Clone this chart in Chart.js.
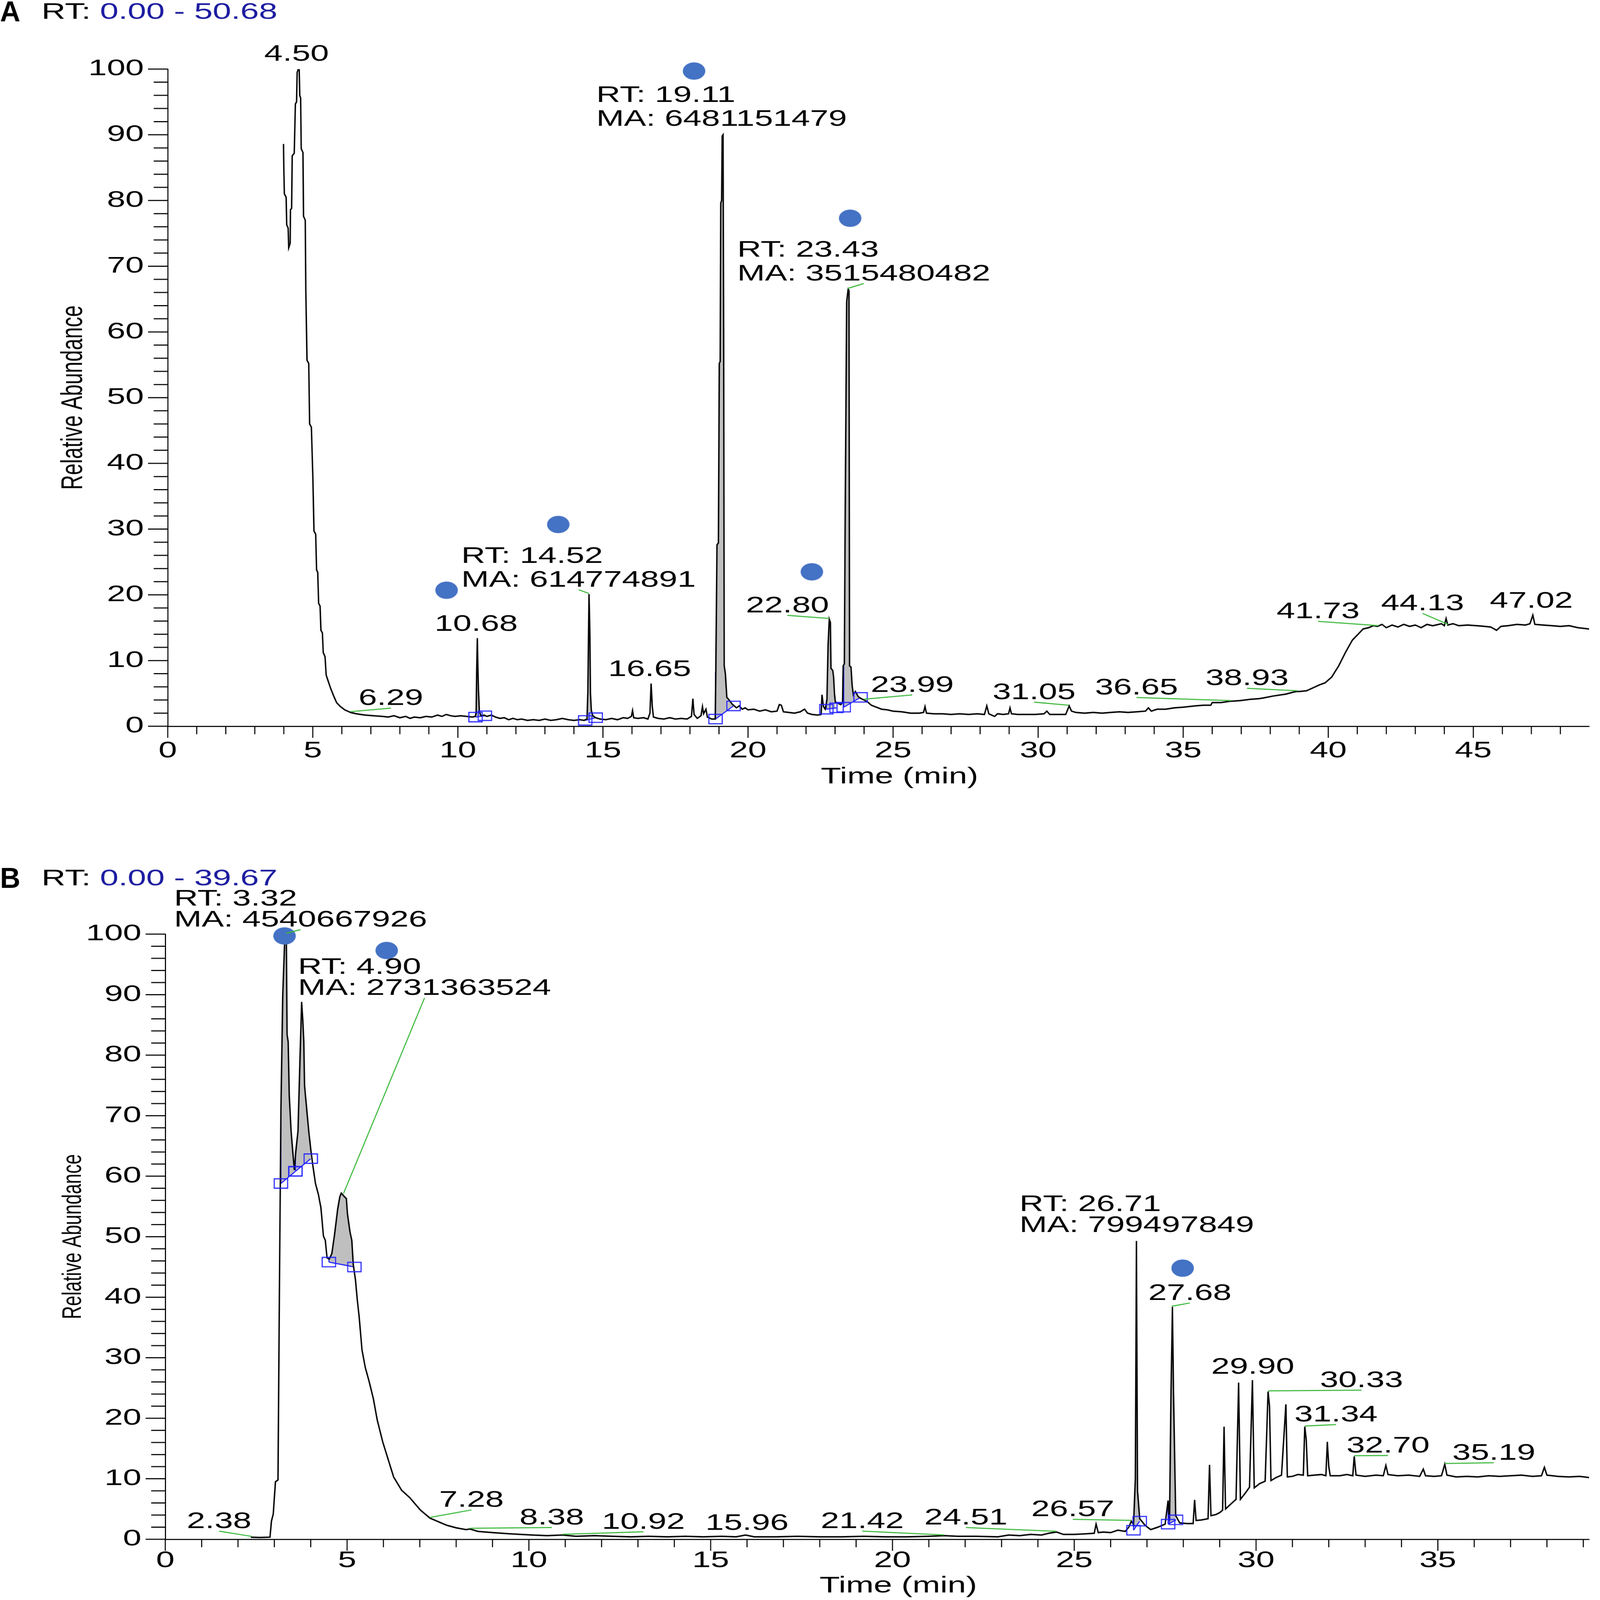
<!DOCTYPE html>
<html>
<head>
<title>GC chromatograms A and B</title>
<script src="https://cdn.jsdelivr.net/npm/chart.js"></script>
<style>
  html, body { margin: 0; padding: 0; background: #fff; overflow: hidden; }
  canvas { position: absolute; left: 0; width: 100vw; height: 50vh; }
</style>
</head>
<body>
<canvas id="chart-a" width="4550" height="2213" style="top:0;width:100vw;height:50vh"></canvas>
<canvas id="chart-b" width="4550" height="2213" style="top:50vh;width:100vw;height:50vh"></canvas>
<script>
// ---------- panel A : [time (min), relative abundance] ----------
const rangeA = '0.00 - 50.68';
const traceA1 = [[3.99,88.6],[4.00,85.0],[4.02,81.0],[4.08,80.5],[4.10,76.3],[4.15,75.8],[4.17,72.8],[4.22,73.5],[4.23,78.6],[4.27,78.8],
  [4.29,86.8],[4.36,87.2],[4.40,94.7],[4.44,95.0],[4.46,99.5],[4.50,100],[4.53,100],[4.55,96.0],[4.58,95.6],[4.60,87.9],
  [4.66,87.3],[4.68,77.6],[4.74,77.0],[4.76,66.0],[4.80,55.7],[4.86,55.2],[4.89,46.0],[4.95,45.5],[5.00,38.2],[5.04,29.7],
  [5.10,29.2],[5.13,23.8],[5.17,23.4],[5.20,18.7],[5.25,18.3],[5.28,14.6],[5.33,14.2],[5.36,11.2],[5.42,10.6],[5.46,7.8],
  [5.55,6.6],[5.62,5.7],[5.72,4.6],[5.82,3.6],[5.95,3.0],[6.10,2.5],[6.30,2.1],[6.50,1.9],[6.80,1.7],[7.10,1.6]];
const traceA2 = [[7.40,1.5],[7.60,1.4],[7.80,1.6],[8.00,1.3],[8.20,1.5],[8.35,1.2],[8.50,1.4],[8.70,1.3],[8.90,1.5],[9.10,1.4],
  [9.30,1.7],[9.45,1.5],[9.60,1.8],[9.75,1.6],[9.90,1.5],[10.10,1.6],[10.30,1.5],[10.50,1.4],[10.60,1.5],
  [10.63,2.0],[10.65,9.1],[10.67,13.4],[10.69,9.0],[10.71,5.5],[10.74,2.2],[10.80,1.6],[10.90,1.7],[11.00,1.5],
  [11.15,1.7],[11.30,1.4],[11.45,1.2],[11.60,1.3],[11.75,1.0],[11.90,1.2],[12.05,1.0],[12.20,1.1],[12.40,0.9],[12.60,1.0],
  [12.80,0.9],[13.00,1.1],[13.20,0.9],[13.40,1.0],[13.60,1.2],[13.80,1.0],[14.00,0.9],[14.20,1.0],[14.35,0.9],[14.45,1.1],
  [14.48,5.2],[14.52,20.1],[14.55,14.0],[14.57,5.0],[14.60,2.4],[14.65,1.6],[14.75,1.3],[14.90,1.1],[15.10,1.0],[15.30,1.2],
  [15.50,1.0],[15.70,1.3],[15.85,1.2],[15.98,1.5],[16.02,2.4],[16.06,1.3],[16.20,1.2],[16.40,1.3],[16.55,1.1],[16.62,2.0],
  [16.66,6.5],[16.70,3.0],[16.74,1.4],[16.90,1.2],[17.10,1.1],[17.30,1.3],[17.50,1.1],[17.70,1.2],[17.90,1.1],[18.05,1.5],
  [18.10,4.2],[18.14,1.8],[18.25,1.2],[18.38,1.6],[18.43,3.0],[18.47,1.9],[18.55,2.6],[18.60,1.4],[18.75,1.1],[18.87,1.1]];
const traceA3 = [[18.89,8.2],[18.93,27.6],[18.98,27.9],[19.01,55.2],[19.04,55.5],[19.06,79.6],[19.09,80.0],[19.11,89.8],[19.14,90.0],[19.16,60.0],
  [19.18,9.2],[19.22,8.0],[19.27,4.4],[19.35,4.0],[19.45,3.4],[19.50,3.2],[19.60,2.8],[19.70,3.1],[19.80,2.6],[19.90,2.8],
  [20.00,2.5],[20.20,2.6],[20.40,2.3],[20.60,2.5],[20.80,2.2],[21.00,2.3],[21.08,3.3],[21.15,3.2],[21.22,2.2],[21.40,2.1],
  [21.60,2.0],[21.80,2.2],[21.95,2.6],[22.05,2.0],[22.20,1.8],[22.40,1.7],[22.52,1.8],[22.55,4.8],[22.60,3.0],[22.66,2.6],
  [22.72,4.0],[22.76,12.3],[22.80,16.3],[22.84,15.8],[22.86,8.8],[22.92,8.5],[22.95,7.5],[22.98,5.0],[23.01,3.7],[23.10,3.5],
  [23.20,3.3],[23.26,3.6],[23.28,9.2],[23.32,9.5],[23.35,32.5],[23.40,64.6],[23.45,66.5],[23.48,66.3],[23.50,9.2],[23.55,9.0],
  [23.59,6.2],[23.63,4.8],[23.70,5.3],[23.80,4.5],[23.90,4.2],[24.00,4.0],[24.12,3.7],[24.25,3.2],[24.43,2.9],[24.60,2.6],
  [24.80,2.5],[25.00,2.3]];
const traceA4 = [[25.30,2.2],[25.60,2.0],[25.90,2.0],[26.05,2.1],[26.10,3.0],[26.15,2.0],[26.40,1.9],[26.70,1.9],[27.00,1.8],[27.30,1.9],
  [27.60,1.8],[27.90,1.9],[28.15,1.8],[28.23,3.1],[28.30,1.9],[28.50,1.5],[28.60,1.9],[28.80,1.8],[28.98,1.9],[29.03,2.8],
  [29.08,1.9],[29.30,1.8],[29.60,1.8],[29.90,1.8],[30.20,1.9],[30.30,2.3],[30.40,1.8],[30.70,1.8],[30.95,1.8],[31.07,3.1],
  [31.15,2.3],[31.30,2.1],[31.60,2.0],[31.90,2.1],[32.20,2.0],[32.50,2.1],[32.80,2.2],[33.10,2.1],[33.40,2.2],[33.70,2.3],
  [33.80,2.8],[33.90,2.3],[34.10,2.6],[34.40,2.6],[34.70,2.8],[35.00,2.9],[35.40,3.1],[35.70,3.2],[35.95,3.2],[36.00,3.6],
  [36.30,3.6],[36.60,3.8],[36.97,3.9],[37.30,4.1],[37.60,4.2],[37.76,4.3],[38.10,4.6],[38.54,4.9],[38.80,5.2],[38.93,5.3],
  [39.02,5.3],[39.25,5.4],[39.50,5.9],[39.70,6.3],[39.89,6.6],[40.12,7.5],[40.36,9.2],[40.60,11.3],[40.83,13.1],[41.07,14.2],
  [41.20,14.8],[41.39,15.0],[41.55,15.3],[41.70,15.2],[41.85,15.5],[42.00,15.0],[42.20,15.4],[42.40,15.1],[42.60,15.5],[42.80,15.2],
  [43.00,15.4],[43.20,15.0],[43.40,15.5],[43.60,15.3],[43.80,15.5],[43.90,15.6],[44.00,15.3],[44.06,16.4],[44.12,15.4],[44.30,15.6],
  [44.50,15.3],[44.80,15.4],[45.10,15.3],[45.40,15.2],[45.60,15.1],[45.80,14.6],[45.95,15.2],[46.20,15.3],[46.50,15.5],[46.80,15.4],
  [46.95,15.6],[47.05,16.9],[47.12,15.5],[47.40,15.4],[47.70,15.3],[48.00,15.2],[48.30,15.3],[48.60,15.0],[48.99,14.8]];
const traceA = [...traceA1, ...traceA2, ...traceA3, ...traceA4];
// integrated peaks: [start, baseline at start, end, baseline at end]
const regionsA = [[10.61,1.4,10.93,1.6],[14.39,0.9,14.75,1.3],[18.88,1.1,19.50,3.1],[22.70,2.6,23.05,2.8],[23.30,2.9,23.88,4.4]];
const markersA = [[18.14,99.7],[23.52,77.3],[13.46,30.7],[9.61,20.7],[22.20,23.5]];
// peak labels: text lines, retention time, label centre (time, abundance)
const labelsA = [
  { text: ['4.50'], rt: 4.50, lx: 4.44, ly: 102.2 },
  { text: ['6.29'], rt: 6.29, lx: 7.69, ly: 4.2 },
  { text: ['10.68'], rt: 10.68, lx: 10.63, ly: 15.5 },
  { text: ['RT: 14.52', 'MA: 614774891'], rt: 14.52, lx: 14.16, ly: 22.2 },
  { text: ['16.65'], rt: 16.65, lx: 16.61, ly: 8.6 },
  { text: ['RT: 19.11', 'MA: 6481151479'], rt: 19.11, lx: 19.09, ly: 92.3 },
  { text: ['22.80'], rt: 22.80, lx: 21.36, ly: 18.3 },
  { text: ['RT: 23.43', 'MA: 3515480482'], rt: 23.43, lx: 23.99, ly: 68.8 },
  { text: ['23.99'], rt: 23.99, lx: 25.66, ly: 6.2 },
  { text: ['31.05'], rt: 31.05, lx: 29.86, ly: 5.1 },
  { text: ['36.65'], rt: 36.65, lx: 33.39, ly: 5.8 },
  { text: ['38.93'], rt: 38.93, lx: 37.20, ly: 7.2 },
  { text: ['41.73'], rt: 41.73, lx: 39.65, ly: 17.4 },
  { text: ['44.13'], rt: 44.13, lx: 43.25, ly: 18.6 },
  { text: ['47.02'], rt: 47.02, lx: 47.00, ly: 19.0 }
];

// ---------- panel B ----------
const rangeB = '0.00 - 39.67';
const traceB1 = [[2.35,0.35],[2.60,0.3],[2.88,0.35],[2.92,3.0],[2.97,4.2],[3.03,9.5],[3.10,9.8],[3.14,42.1],[3.18,70.7],[3.23,89.9],
  [3.28,98.3],[3.31,100],[3.33,99.0],[3.35,83.4],[3.38,82.2],[3.41,73.3],[3.46,67.5],[3.50,64.5],[3.55,61.0],[3.59,64.1],
  [3.65,67.5],[3.71,80.5],[3.75,88.8],[3.78,86.0],[3.81,82.2],[3.83,75.0],[3.90,70.4],[3.95,67.2],[4.00,64.5],[4.06,61.7],
  [4.13,58.8],[4.21,57.0],[4.28,54.8],[4.35,50.1],[4.40,49.4],[4.45,46.5],[4.51,46.3],[4.58,47.2],[4.65,50.1],[4.74,54.5],
  [4.80,56.6],[4.84,57.2],[4.87,57.0],[4.93,56.6],[4.98,56.3],[5.01,53.8],[5.08,50.8],[5.13,49.4],[5.17,45.4],[5.23,42.9],
  [5.28,39.6],[5.33,36.9],[5.41,31.3],[5.50,28.4],[5.61,26.0],[5.72,23.3],[5.83,19.7],[5.98,16.1],[6.13,13.2],[6.28,10.3],
  [6.50,8.1],[6.72,6.9],[7.02,4.8],[7.28,3.5],[7.55,2.8],[7.75,2.3],[8.00,1.9]];
const traceB2 = [[8.27,1.6],[8.38,1.7],[8.60,1.3],[9.00,1.1],[9.50,0.9],[10.10,0.7],[10.50,0.6],[10.92,0.7],[11.30,0.5],[11.80,0.6],
  [12.30,0.5],[12.80,0.4],[13.30,0.5],[13.80,0.4],[14.30,0.5],[14.80,0.4],[15.30,0.5],[15.70,0.4],[15.96,0.7],[16.20,0.4],
  [16.80,0.4],[17.40,0.5],[18.00,0.4],[18.60,0.4],[19.20,0.5],[19.80,0.4],[20.40,0.4],[21.00,0.5],[21.42,0.6],[21.80,0.5],
  [22.30,0.5],[22.90,0.4],[23.20,0.7],[23.50,0.6],[23.80,0.8],[24.10,0.7],[24.30,1.0],[24.51,1.2],[24.70,0.8],[25.00,0.8],
  [25.30,0.9],[25.55,1.0],[25.60,2.5],[25.66,1.1],[25.80,1.2],[26.00,1.1],[26.20,1.5],[26.40,1.3],[26.50,2.0]];
const traceB3 = [[26.57,3.0],[26.63,2.4],[26.68,10.0],[26.71,49.3],[26.74,8.0],[26.80,3.4],[26.95,2.3],[27.10,1.6],[27.30,2.0],[27.50,2.5],
  [27.58,6.4],[27.62,3.0],[27.66,24.1],[27.70,38.4],[27.73,24.0],[27.79,3.9],[27.90,2.7],[28.10,2.6],[28.27,2.6],[28.31,6.5],
  [28.35,3.1],[28.50,3.2],[28.68,3.4],[28.72,12.3],[28.76,3.9],[28.90,4.1],[29.00,4.4],[29.08,4.8],[29.12,18.6],[29.16,5.0],
  [29.30,5.8],[29.45,6.6],[29.52,25.9],[29.57,6.6],[29.70,7.6],[29.82,8.6],[29.90,26.3],[29.95,8.5],[30.10,9.2],[30.25,9.6],
  [30.33,24.4],[30.37,22.0],[30.41,9.7],[30.55,10.2],[30.70,10.6],[30.82,22.3],[30.86,10.3],[31.00,10.4],[31.15,10.7]];
const traceB4 = [[31.30,10.6],[31.34,18.6],[31.38,16.5],[31.42,10.5],[31.60,10.6],[31.80,10.7],[31.92,10.5],[31.96,16.1],[32.00,12.0],[32.04,10.5],
  [32.30,10.5],[32.50,10.7],[32.66,10.5],[32.70,13.7],[32.75,10.6],[33.00,10.4],[33.30,10.6],[33.50,10.5],[33.57,12.2],[33.63,10.7],
  [33.90,10.5],[34.20,10.6],[34.50,10.4],[34.60,11.6],[34.66,10.5],[34.90,10.4],[35.10,10.5],[35.19,12.4],[35.25,10.6],[35.50,10.3],
  [35.80,10.4],[36.10,10.3],[36.40,10.5],[36.70,10.4],[37.00,10.5],[37.30,10.6],[37.60,10.4],[37.85,10.5],[37.93,11.9],[38.00,10.6],
  [38.30,10.4],[38.60,10.3],[38.90,10.4],[39.16,10.2]];
const traceB = [...traceB1, ...traceB2, ...traceB3, ...traceB4];
const regionsB = [[3.18,58.8,3.58,60.8],[3.58,60.8,4.00,62.9],[4.50,45.8,5.20,45.0],[26.63,1.5,26.80,3.0],[27.58,2.5,27.80,3.2]];
const markersB = [[3.28,99.7],[6.09,97.3],[27.98,44.8]];
const labelsB = [
  { text: ['RT: 3.32', 'MA: 4540667926'], rt: 3.32, lx: 3.72, ly: 102.3 },
  { text: ['RT: 4.90', 'MA: 2731363524'], rt: 4.90, lx: 7.13, ly: 91.0 },
  { text: ['2.38'], rt: 2.38, lx: 1.48, ly: 2.9 },
  { text: ['7.28'], rt: 7.28, lx: 8.42, ly: 6.4 },
  { text: ['8.38'], rt: 8.38, lx: 10.63, ly: 3.5 },
  { text: ['10.92'], rt: 10.92, lx: 13.15, ly: 2.8 },
  { text: ['15.96'], rt: 15.96, lx: 16.00, ly: 2.6 },
  { text: ['21.42'], rt: 21.42, lx: 19.17, ly: 2.9 },
  { text: ['24.51'], rt: 24.51, lx: 22.02, ly: 3.5 },
  { text: ['26.57'], rt: 26.57, lx: 24.96, ly: 4.85 },
  { text: ['RT: 26.71', 'MA: 799497849'], rt: 26.71, lx: 26.72, ly: 51.8 },
  { text: ['27.68'], rt: 27.68, lx: 28.18, ly: 40.6 },
  { text: ['29.90'], rt: 29.90, lx: 29.91, ly: 28.4 },
  { text: ['30.33'], rt: 30.33, lx: 32.90, ly: 26.2 },
  { text: ['31.34'], rt: 31.34, lx: 32.20, ly: 20.5 },
  { text: ['32.70'], rt: 32.70, lx: 33.63, ly: 15.4 },
  { text: ['35.19'], rt: 35.19, lx: 36.54, ly: 14.2 }
];

// ---------- drawing helpers ----------
const FONT = '63px "Liberation Sans", Arial, sans-serif';
const STRETCH = 1.5;
const GREEN = '#3cb83c';
const BLUE = '#2020ff';

function wideText(ctx, text, x, y, align, font, color) {
  ctx.save();
  ctx.font = font;
  ctx.fillStyle = color;
  ctx.textAlign = align;
  ctx.textBaseline = 'middle';
  ctx.translate(x, y);
  ctx.scale(STRETCH, 1);
  ctx.fillText(text, 0, 0);
  ctx.restore();
}

function peakTop(trace, rt) {
  let best = null;
  trace.forEach(([x, y]) => {
    if (Math.abs(x - rt) <= 0.06 && (best === null || y > best)) best = y;
  });
  if (best === null) {
    let d = Infinity;
    trace.forEach(([x, y]) => { if (Math.abs(x - rt) < d) { d = Math.abs(x - rt); best = y; } });
  }
  return best;
}

function makeEllipse() {
  const c = document.createElement('canvas');
  c.width = 66; c.height = 50;
  const g = c.getContext('2d');
  g.fillStyle = '#4472c4';
  g.beginPath();
  g.ellipse(33, 25, 32, 24, 0, 0, Math.PI * 2);
  g.fill();
  return c;
}

function makeBox() {
  const c = document.createElement('canvas');
  c.width = 42; c.height = 30;
  const g = c.getContext('2d');
  g.strokeStyle = BLUE;
  g.lineWidth = 3;
  g.strokeRect(2, 2, 38, 26);
  return c;
}

const ellipseImg = makeEllipse();
const boxImg = makeBox();

const decor = {
  id: 'decor',
  afterDraw(chart, args, o) {
    const ctx = chart.ctx;
    const xs = chart.scales.x, ys = chart.scales.y;
    const area = chart.chartArea;
    ctx.save();
    ctx.strokeStyle = '#000';
    ctx.lineWidth = 3;
    ctx.beginPath();
    for (let v = 0; v <= xs.max + 1e-6; v += 1) {
      const px = xs.getPixelForValue(v);
      const major = v % 5 === 0;
      ctx.moveTo(px, area.bottom);
      ctx.lineTo(px, area.bottom + (major ? 32 : 22));
    }
    for (let v = 0; v <= 100; v += 2) {
      const py = ys.getPixelForValue(v);
      const major = v % 10 === 0;
      ctx.moveTo(area.left, py);
      ctx.lineTo(area.left - (major ? 56 : 40), py);
    }
    ctx.stroke();
    for (let v = 0; v <= xs.max + 1e-6; v += 5) {
      wideText(ctx, String(v), xs.getPixelForValue(v), o.tickY, 'center', FONT, '#000');
    }
    for (let v = 0; v <= 100; v += 10) {
      wideText(ctx, String(v), area.left - 68, ys.getPixelForValue(v), 'right', FONT, '#000');
    }
    // axis titles
    wideText(ctx, 'Time (min)', (area.left + area.right) / 2 + 60, o.titleY, 'center', FONT, '#000');
    ctx.save();
    ctx.translate(209, (area.top + area.bottom) / 2);
    ctx.scale(STRETCH, 1);
    ctx.rotate(-Math.PI / 2);
    ctx.font = o.yTitleSize + 'px "Liberation Sans", Arial, sans-serif';
    ctx.fillStyle = '#000';
    ctx.textAlign = 'center';
    ctx.textBaseline = 'middle';
    ctx.fillText('Relative Abundance', 0, 0);
    ctx.restore();
    // panel letter and RT range
    ctx.font = 'bold 80px "Liberation Sans Narrow", "Liberation Sans", Arial, sans-serif';
    ctx.fillStyle = '#000';
    ctx.textAlign = 'left';
    ctx.textBaseline = 'middle';
    ctx.fillText(o.letter, 0, o.headerY + 2);
    wideText(ctx, 'RT: ', 118, o.headerY, 'left', FONT, '#000');
    ctx.font = FONT;
    const w = ctx.measureText('RT: ').width * STRETCH;
    wideText(ctx, o.range, 118 + w, o.headerY, 'left', FONT, '#1c1ca0');
    // leaders and peak labels
    ctx.strokeStyle = GREEN;
    ctx.lineWidth = 3;
    o.labels.forEach(l => {
      const cx = xs.getPixelForValue(l.lx);
      const cy = ys.getPixelForValue(l.ly);
      if (Math.abs(l.lx - l.rt) > 0.25) {
        ctx.beginPath();
        ctx.moveTo(cx, cy + 26);
        ctx.lineTo(xs.getPixelForValue(l.rt), ys.getPixelForValue(peakTop(o.trace, l.rt)) - 2);
        ctx.stroke();
      }
      if (l.text.length === 1) {
        wideText(ctx, l.text[0], cx, cy, 'center', FONT, '#000');
      } else {
        ctx.font = FONT;
        const bw = Math.max(...l.text.map(t => ctx.measureText(t).width)) * STRETCH;
        const n = l.text.length;
        l.text.forEach((t, i) => {
          wideText(ctx, t, cx - bw / 2, cy - (n - 1 - i) * o.lineGap, 'left', FONT, '#000');
        });
      }
    });
    ctx.restore();
  }
};

function buildDatasets(trace, regions, markers) {
  const pts = trace.map(([x, y]) => ({ x, y }));
  const ds = [];
  ds.push({ label: 'compounds', data: markers.map(([x, y]) => ({ x, y })), showLine: false,
    pointStyle: ellipseImg, pointRadius: 30, clip: false, order: 0 });
  const bounds = [];
  regions.forEach(([s, a, e, b]) => { bounds.push({ x: s, y: a }, { x: e, y: b }); });
  ds.push({ label: 'bounds', data: bounds, showLine: false, pointStyle: boxImg, pointRadius: 20, clip: false, order: 1 });
  ds.push({ label: 'TIC', data: pts, borderColor: '#000', borderWidth: 4, pointRadius: 0, order: 2 });
  regions.forEach(([s, a, e, b]) => {
    const seg = pts.filter(p => p.x >= s && p.x <= e);
    const baseIndex = ds.length + 1;
    ds.push({ label: 'area', data: seg, fill: baseIndex, backgroundColor: '#bfbfbf',
      borderWidth: 0, pointRadius: 0, order: 5 });
    ds.push({ label: 'baseline', data: [{ x: s, y: a }, { x: e, y: b }], borderColor: BLUE,
      borderWidth: 3, pointRadius: 0, fill: false, order: 3 });
    if (seg.length) {
      ds.push({ label: 'edge', data: [{ x: s, y: a }, { x: s, y: seg[0].y }], borderColor: BLUE,
        borderWidth: 3, pointRadius: 0, fill: false, order: 3 });
    }
  });
  return ds;
}

function renderPanel(id, cfg) {
  const H = 2213;
  new Chart(document.getElementById(id), {
    type: 'line',
    data: { datasets: buildDatasets(cfg.trace, cfg.regions, cfg.markers) },
    options: {
      responsive: false,
      animation: false,
      devicePixelRatio: 1,
      events: [],
      layout: { padding: { top: cfg.top, right: 7, left: 0, bottom: 0 } },
      plugins: {
        legend: { display: false },
        tooltip: { enabled: false },
        decor: {
          letter: cfg.letter, range: cfg.range, labels: cfg.labels, trace: cfg.trace,
          tickY: cfg.tickY, titleY: cfg.titleY, headerY: cfg.headerY,
          yTitleSize: cfg.yTitleSize, lineGap: cfg.lineGap
        }
      },
      scales: {
        x: {
          type: 'linear', min: 0, max: cfg.xmax,
          ticks: { display: false }, grid: { display: false, drawTicks: false },
          border: { display: true, color: '#000', width: 3 },
          afterFit(s) { s.height = H - cfg.bottom; }
        },
        y: {
          type: 'linear', min: 0, max: 100,
          ticks: { display: false }, grid: { display: false, drawTicks: false },
          border: { display: true, color: '#000', width: 3 },
          afterFit(s) { s.width = cfg.left; }
        }
      }
    },
    plugins: [decor]
  });
}

renderPanel('chart-a', {
  letter: 'A', range: rangeA, trace: traceA, regions: regionsA, markers: markersA, labels: labelsA,
  xmax: 48.99, left: 477, top: 191, bottom: 2009,
  tickY: 2078, titleY: 2150, headerY: 35, yTitleSize: 57, lineGap: 66
});
renderPanel('chart-b', {
  letter: 'B', range: rangeB, trace: traceB, regions: regionsB, markers: markersB, labels: labelsB,
  xmax: 39.16, left: 470, top: 371, bottom: 2045,
  tickY: 2105, titleY: 2175, headerY: 219, yTitleSize: 51, lineGap: 58
});
</script>
</body>
</html>
